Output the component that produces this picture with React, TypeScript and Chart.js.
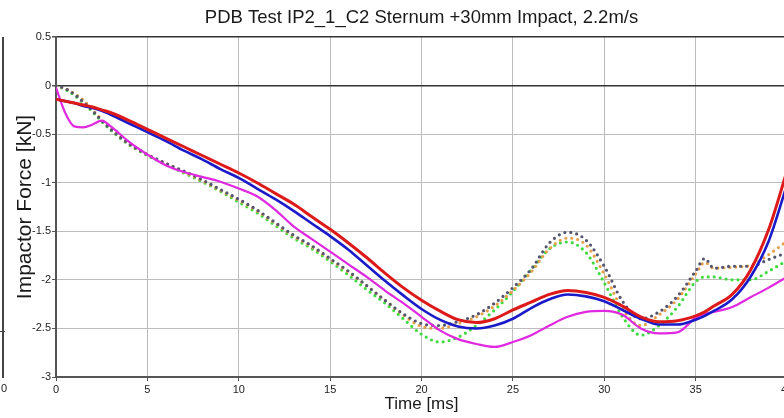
import React, { useEffect, useRef } from "react";
import { Chart, registerables } from "chart.js";

Chart.register(...registerables);

const chartTitle = "PDB Test IP2_1_C2 Sternum +30mm Impact, 2.2m/s";
const xTitle = "Time [ms]";
const yTitle = "Impactor Force [kN]";

const xTicks = [0, 5, 10, 15, 20, 25, 30, 35, 40];
const yTicks = [0.5, 0, -0.5, -1, -1.5, -2, -2.5, -3];

const timeMs = [0, 0.5, 1, 1.5, 2, 2.5, 3, 4, 5, 6, 7, 8, 9, 10, 11, 12, 13, 14, 15, 16, 17, 18, 19, 20, 21, 22, 23, 24, 25, 26, 27, 28, 29, 30, 31, 32, 33, 34, 35, 35.5, 36, 37, 38, 39, 40];

const redSeries = [-0.14, -0.16, -0.18, -0.2, -0.22, -0.25, -0.28, -0.36, -0.45, -0.54, -0.63, -0.72, -0.81, -0.9, -1.0, -1.11, -1.22, -1.35, -1.48, -1.62, -1.77, -1.93, -2.08, -2.21, -2.32, -2.41, -2.44, -2.4, -2.31, -2.23, -2.15, -2.11, -2.13, -2.18, -2.27, -2.38, -2.43, -2.42, -2.37, -2.33, -2.27, -2.15, -1.9, -1.48, -0.88];
const blueSeries = [-0.14, -0.16, -0.18, -0.21, -0.23, -0.26, -0.3, -0.39, -0.48, -0.57, -0.67, -0.76, -0.86, -0.95, -1.06, -1.17, -1.29, -1.42, -1.55, -1.69, -1.85, -2.01, -2.16, -2.3, -2.41, -2.48, -2.5, -2.47, -2.4, -2.29, -2.2, -2.15, -2.17, -2.22, -2.31, -2.4, -2.46, -2.46, -2.41, -2.37, -2.32, -2.2, -1.97, -1.6, -1.02];
const magentaSeries = [-0.02, -0.28, -0.42, -0.43, -0.4, -0.36, -0.42, -0.58, -0.71, -0.82, -0.89, -0.94, -0.99, -1.06, -1.14, -1.28, -1.45, -1.58, -1.71, -1.84, -1.97, -2.11, -2.24, -2.38, -2.52, -2.61, -2.66, -2.69, -2.64, -2.57, -2.47, -2.38, -2.33, -2.32, -2.36, -2.5, -2.55, -2.54, -2.39, -2.35, -2.33, -2.28, -2.18, -2.08, -1.97];
const greenSeries = [0, -0.04, -0.1, -0.18, -0.27, -0.37, -0.46, -0.61, -0.72, -0.81, -0.9, -0.99, -1.09, -1.2, -1.31, -1.44, -1.57, -1.68, -1.81, -1.95, -2.1, -2.24, -2.4, -2.56, -2.64, -2.59, -2.47, -2.31, -2.12, -1.9, -1.68, -1.61, -1.72, -2.03, -2.38, -2.57, -2.47, -2.28, -2.02, -1.97, -1.97, -2.0, -2.0, -1.91, -1.8];
const orangeSeries = [0, -0.03, -0.08, -0.15, -0.25, -0.35, -0.45, -0.6, -0.71, -0.8, -0.89, -0.98, -1.08, -1.18, -1.29, -1.42, -1.55, -1.66, -1.79, -1.92, -2.06, -2.21, -2.36, -2.48, -2.5, -2.45, -2.38, -2.27, -2.11, -1.92, -1.68, -1.57, -1.64, -1.94, -2.3, -2.47, -2.36, -2.2, -1.94, -1.82, -1.88, -1.87, -1.85, -1.74, -1.6];
const graySeries = [0, -0.03, -0.09, -0.17, -0.26, -0.36, -0.45, -0.6, -0.71, -0.8, -0.88, -0.97, -1.07, -1.17, -1.28, -1.41, -1.54, -1.65, -1.78, -1.91, -2.06, -2.21, -2.35, -2.45, -2.47, -2.43, -2.36, -2.24, -2.08, -1.89, -1.62, -1.51, -1.59, -1.86, -2.22, -2.4, -2.33, -2.17, -1.91, -1.78, -1.88, -1.86, -1.86, -1.79, -1.72];

const FONT = "'Liberation Sans', Arial, sans-serif";

function pts(values: number[]) {
  return timeMs.map((t, i) => ({ x: t, y: values[i] }));
}

export default function App() {
  const canvasRef = useRef<HTMLCanvasElement | null>(null);

  useEffect(() => {
    if (!canvasRef.current) return;
    const solid = (label: string, values: number[], color: string, width: number, order: number) => ({
      label,
      data: pts(values),
      borderColor: color,
      backgroundColor: color,
      borderWidth: width,
      pointRadius: 0,
      cubicInterpolationMode: "monotone" as const,
      order,
    });
    const dotted = (label: string, values: number[], color: string, order: number) => ({
      label,
      data: pts(values),
      borderColor: color,
      backgroundColor: color,
      borderWidth: 3.2,
      borderDash: [0, 6],
      borderCapStyle: "round" as const,
      pointRadius: 0,
      cubicInterpolationMode: "monotone" as const,
      order,
    });
    const chart = new Chart(canvasRef.current, {
      type: "line",
      data: {
        datasets: [
          solid("Red", redSeries, "#dd1a1a", 3, 1),
          solid("Blue", blueSeries, "#1a1ac8", 2.6, 2),
          solid("Magenta", magentaSeries, "#e028e0", 2.2, 3),
          dotted("Gray", graySeries, "#555570", 4),
          dotted("Orange", orangeSeries, "#e6a04a", 5),
          dotted("Green", greenSeries, "#3fdc3f", 6),
        ] as any,
      },
      options: {
        animation: false,
        responsive: false,
        devicePixelRatio: 1,
        layout: { padding: { left: 0, right: 13, top: 0, bottom: 0 } },
        plugins: {
          legend: { display: false },
          tooltip: { enabled: false },
          title: {
            display: true,
            text: chartTitle,
            fullSize: false,
            color: "#1a1a1a",
            font: { family: FONT, size: 18.5, weight: "normal" },
            padding: { top: 7, bottom: 7.8 },
          },
        },
        scales: {
          x: {
            type: "linear",
            min: 0,
            max: 40,
            afterBuildTicks: (scale: any) => {
              scale.ticks = xTicks.map((v) => ({ value: v }));
            },
            afterFit: (scale: any) => {
              scale.height = 41;
            },
            ticks: {
              color: "#222",
              font: { family: FONT, size: 11 },
              padding: 2,
              maxRotation: 0,
              callback: (v: any) => String(v),
            },
            grid: {
              color: "#bdbdbd",
              lineWidth: 1,
              tickLength: 4,
              tickColor: "#555",
            },
            border: { display: true, color: "#555", width: 2 },
            title: {
              display: true,
              text: xTitle,
              color: "#1a1a1a",
              font: { family: FONT, size: 17 },
              padding: { top: 0, bottom: 3.5 },
            },
          },
          y: {
            type: "linear",
            min: -3,
            max: 0.5,
            afterBuildTicks: (scale: any) => {
              scale.ticks = yTicks.map((v) => ({ value: v }));
            },
            afterFit: (scale: any) => {
              scale.width = 56;
            },
            ticks: {
              color: "#222",
              font: { family: FONT, size: 11 },
              padding: 1,
              callback: (v: any) => String(v),
            },
            grid: {
              color: (ctx: any) =>
                ctx.tick && (ctx.tick.value === 0 || ctx.tick.value === 0.5) ? "#333" : "#bdbdbd",
              lineWidth: (ctx: any) =>
                ctx.tick && (ctx.tick.value === 0 || ctx.tick.value === 0.5) ? 1.5 : 1,
              tickLength: 4,
              tickColor: "#555",
            },
            border: { display: true, color: "#555", width: 2 },
            title: {
              display: true,
              text: yTitle,
              color: "#1a1a1a",
              font: { family: FONT, size: 21 },
              padding: { top: 13, bottom: 0 },
            },
          },
        },
      } as any,
    });
    return () => chart.destroy();
  }, []);

  return (
    <div
      style={{
        position: "fixed",
        left: 0,
        top: 0,
        width: 784,
        height: 418,
        overflow: "hidden",
        background: "#fff",
      }}
    >
      <canvas ref={canvasRef} width={800} height={418} style={{ position: "absolute", left: 0, top: 0 }} />
      <div style={{ position: "absolute", left: 2, top: 37, width: 1.5, height: 341, background: "#444" }} />
      <div style={{ position: "absolute", left: 0, top: 331, width: 5, height: 1, background: "#444" }} />
      <span style={{ position: "absolute", left: 1, top: 382, fontFamily: FONT, fontSize: 11, color: "#222" }}>0</span>
    </div>
  );
}
